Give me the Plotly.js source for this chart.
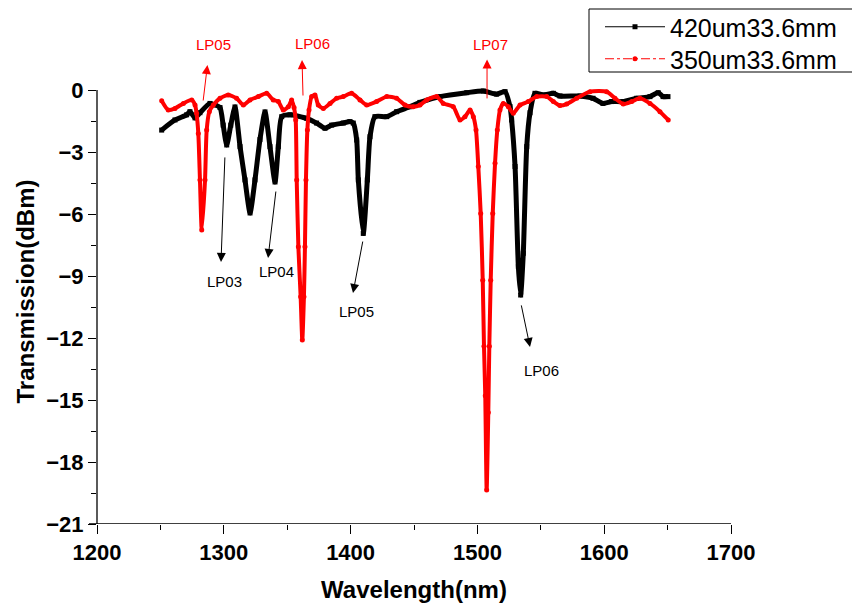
<!DOCTYPE html>
<html>
<head>
<meta charset="utf-8">
<script src="https://cdn.plot.ly/plotly-3.0.1.min.js"></script>
<style>html,body{margin:0;padding:0;background:#fff;}#chart{width:852px;height:613px;}</style>
</head>
<body>
<div id="chart"></div>
<script>
// ---- data ----
const blackName = "420um33.6mm";
const redName = "350um33.6mm";

const blackWl = [1251,1261.5,1270.7,1273.3,1277.3,1281.2,1289.1,1293.1,1297,1299.5,1302.3,1305.5,1308.8,1312.8,1316.7,1320.7,1324.6,1328.5,1332.5,1336.4,1340.4,1343,1345.7,1352.2,1365.4,1373.2,1379.8,1385.1,1394.2,1399.5,1402.1,1404.8,1406.1,1410,1413.2,1415.3,1419.2,1428.5,1436.3,1446.8,1454.7,1470.5,1491.6,1504.7,1515.2,1521.8,1525.7,1527,1529.7,1532.3,1534.1,1536.2,1538.9,1541.5,1545.4,1552,1559.9,1565.1,1580.9,1591.2,1599,1605.9,1614.8,1625.6,1636.1,1642.6,1646.4,1650.3];
const blackDb = [-1.94,-1.45,-1.2,-1.05,-1.35,-1.1,-0.65,-0.72,-0.85,-1.7,-2.66,-1.7,-0.82,-2.74,-4.35,-5.95,-4.35,-2.4,-1.06,-2.74,-4.45,-2.74,-1.29,-1.2,-1.37,-1.6,-1.85,-1.7,-1.6,-1.53,-1.6,-2.42,-4.35,-6.94,-4.35,-2.26,-1.29,-1.29,-1.05,-0.81,-0.6,-0.32,-0.13,-0.05,-0.2,-0.08,-0.8,-1.45,-3.7,-8.55,-9.92,-7.9,-2.74,-1.1,-0.16,-0.24,-0.16,-0.29,-0.29,-0.4,-0.65,-0.56,-0.56,-0.4,-0.32,-0.13,-0.32,-0.32];

const redWl = [1251,1256.2,1261.5,1268.1,1274.7,1277.3,1278.5,1279.9,1281.2,1282.6,1285.2,1286.5,1288.6,1291.7,1297,1303.5,1310.1,1315.4,1320.7,1327.2,1333.8,1339,1343,1346.9,1350.9,1353.5,1355.4,1356.7,1357.5,1358.8,1360.6,1361.9,1363.2,1364,1364.8,1365.9,1367.2,1369.3,1371.9,1374.5,1378.5,1383.8,1389,1394.2,1400.8,1407.4,1412.7,1420.5,1428.5,1436.3,1442.9,1449.4,1454.7,1460,1467.9,1473.1,1481,1486.3,1490.2,1494.2,1496.8,1498.9,1500.7,1502.6,1504.2,1505.2,1506.2,1507.3,1508.6,1509.4,1510.5,1512.1,1513.9,1515.7,1517.8,1520.4,1524.4,1528.3,1533.6,1540.1,1546.8,1554.7,1559.9,1565.1,1570.4,1578.3,1588.8,1601.9,1608.5,1615,1621.7,1628.2,1636.1,1644,1650.5];
const redDb = [-0.52,-0.97,-0.89,-0.65,-0.48,-0.73,-1.13,-2.1,-4.35,-6.77,-4.35,-1.94,-1.05,-0.73,-0.4,-0.24,-0.4,-0.73,-0.48,-0.32,-0.16,-0.48,-0.56,-0.97,-0.81,-0.48,-0.85,-1.45,-4.35,-7.58,-10,-12.1,-10,-7.58,-4.35,-1.94,-0.97,-0.32,-0.24,-0.73,-0.89,-0.65,-0.4,-0.32,-0.16,-0.48,-0.73,-0.56,-0.32,-0.4,-0.73,-0.81,-0.73,-0.48,-0.32,-0.65,-0.81,-1.45,-1.29,-0.97,-1.29,-1.94,-3.7,-5.97,-9.2,-12.4,-14.8,-19.35,-15.6,-12.4,-9.2,-5.97,-3.55,-1.94,-0.97,-0.65,-0.81,-1.13,-0.73,-0.56,-0.32,-0.32,-0.56,-0.75,-0.68,-0.4,-0.08,-0.08,-0.4,-0.68,-0.56,-0.4,-0.65,-1.05,-1.45];

const xTickVals = [1200,1300,1400,1500,1600,1700];
const yTickVals = [0,-3,-6,-9,-12,-15,-18,-21];

// mode labels: [text, colour, textX, textY, arrowTailX, arrowTailY, arrowTipX, arrowTipY]
const modeLabels = [
  ["LP05","red",1291.5,2.18,1283.6,-0.58,1287.1,1.21],
  ["LP06","red",1370.3,2.27,1362.5,-0.34,1361.7,1.45],
  ["LP07","red",1510.7,2.18,1507.6,-0.48,1507.6,1.48],
  ["LP03","black",1300.2,-9.29,1300.9,-3.19,1297.8,-8.32],
  ["LP04","black",1341.2,-8.8,1341.2,-4.84,1334.9,-8.13],
  ["LP05","black",1404.3,-10.74,1409.8,-7.26,1401.9,-9.82],
  ["LP06","black",1550.2,-13.55,1534.4,-10.35,1541.5,-12.43]
];

const Y_RANGE = [-21, 1.5];
const toPaperY = v => (v - Y_RANGE[0]) / (Y_RANGE[1] - Y_RANGE[0]);

const traces = [
  {x: blackWl, y: blackDb, mode: "lines", line: {color: "#000", width: 5, shape: "spline", smoothing: 0.6}, showlegend: false, hoverinfo: "skip"},
  {x: blackWl, y: blackDb, name: blackName, legend: "legend", mode: "lines+markers", line: {color: "#000", width: 1}, marker: {symbol: "square", size: 5, color: "#000"}},
  {x: redWl, y: redDb, mode: "lines", line: {color: "#ff0000", width: 4, shape: "spline", smoothing: 0.6}, showlegend: false, hoverinfo: "skip"},
  {x: redWl, y: redDb, name: redName, legend: "legend2", mode: "lines+markers", line: {color: "#ff0000", width: 1, dash: "dashdot"}, marker: {symbol: "circle", size: 5, color: "#ff0000"}}
];

const annotations = [];
modeLabels.forEach(m => {
  const outside = m[3] > Y_RANGE[1];
  annotations.push({x: m[2], y: outside ? toPaperY(m[3]) : m[3], xref: "x", yref: outside ? "paper" : "y",
    xanchor: "center", yanchor: "middle", text: m[0], showarrow: false,
    font: {family: "Arial, Liberation Sans", size: 15, color: m[1]}});
  annotations.push({x: m[6], y: m[7], ax: m[4], ay: m[5], xref: "x", yref: "y", axref: "x", ayref: "y",
    text: "", showarrow: true, arrowhead: 2, arrowsize: 1.8, arrowwidth: 1, arrowcolor: m[1], standoff: 0, startstandoff: 0});
});

const tickFont = {family: "Arial, Liberation Sans", size: 22, color: "#000", weight: "bold"};
const titleFont = {family: "Arial, Liberation Sans", size: 24, color: "#000", weight: "bold"};
const legendFont = {family: "Arial, Liberation Sans", size: 25, color: "#000"};

// legend frame (extends beyond the right edge like the reference)
const legendFrame = {type: "rect", xref: "paper", yref: "paper",
  x0: (589 - 97) / 634, x1: 1.3, y0: (524 - 72) / 465, y1: (524 - 9) / 465,
  line: {color: "#000", width: 1}, fillcolor: "rgba(0,0,0,0)", layer: "above"};

const legendBase = {xref: "container", yref: "container", x: 600 / 852, xanchor: "left", yanchor: "middle",
  bgcolor: "rgba(0,0,0,0)", borderwidth: 0, itemwidth: 60, font: legendFont};

const layout = {
  width: 852, height: 613,
  margin: {l: 97, r: 121, t: 59, b: 89, pad: 0, autoexpand: false},
  paper_bgcolor: "#fff", plot_bgcolor: "#fff",
  showlegend: true,
  legend: Object.assign({}, legendBase, {y: 1 - 27 / 613}),
  legend2: Object.assign({}, legendBase, {y: 1 - 59 / 613}),
  xaxis: {range: [1200, 1700], tickvals: xTickVals, ticks: "outside", ticklen: 9, tickwidth: 1, tickcolor: "#000",
    minor: {dtick: 50, ticks: "outside", ticklen: 5, tickwidth: 1, tickcolor: "#000", showgrid: false},
    showgrid: false, zeroline: false, showline: false, tickfont: tickFont, automargin: false,
    title: {text: "Wavelength(nm)", font: titleFont, standoff: 16}},
  yaxis: {range: Y_RANGE, tickvals: yTickVals, ticks: "outside", ticklen: 8, tickwidth: 1, tickcolor: "#000",
    minor: {tickvals: [-1.5,-4.5,-7.5,-10.5,-13.5,-16.5,-19.5], ticks: "outside", ticklen: 5, tickwidth: 1, tickcolor: "#000", showgrid: false},
    showgrid: false, zeroline: false, showline: false, tickfont: tickFont, automargin: false,
    title: {text: "Transmission(dBm)", font: titleFont, standoff: 4}},
  shapes: [
    {type: "line", xref: "paper", yref: "y", x0: 0, x1: 0, y0: -21, y1: 0, line: {color: "#000", width: 1.3}},
    {type: "line", xref: "paper", yref: "y", x0: -0.0126, x1: 1, y0: -21, y1: -21, line: {color: "#000", width: 1.3}},
    legendFrame
  ],
  annotations: annotations
};

Plotly.newPlot("chart", traces, layout, {staticPlot: true, displayModeBar: false});
</script>
</body>
</html>
